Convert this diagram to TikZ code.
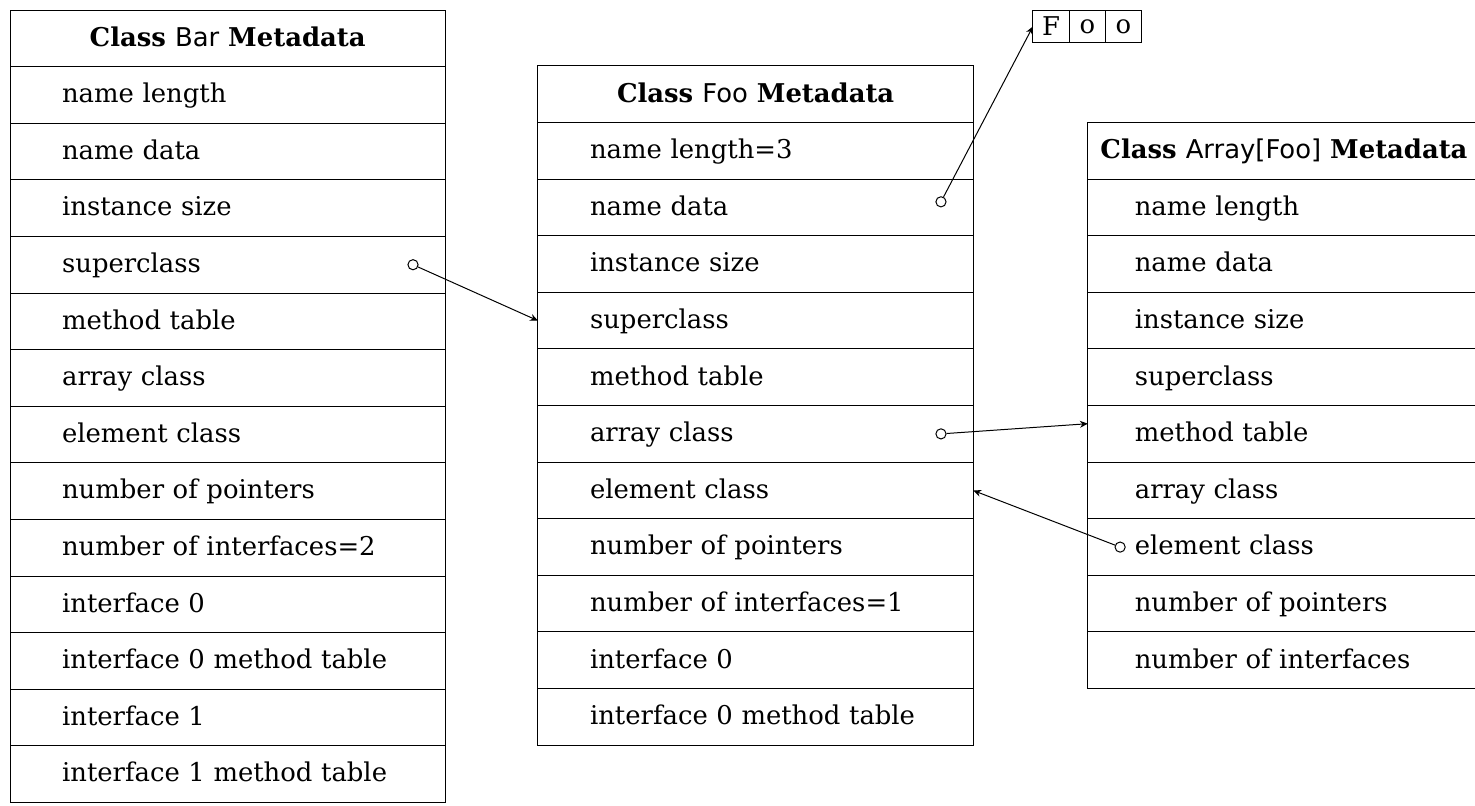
\documentclass[tikz,border=0pt]{standalone}
\usepackage{fontspec}
\setmainfont{DejaVu Serif}
\setsansfont{DejaVu Sans}
\usetikzlibrary{positioning, arrows.meta}

\begin{document}
\begin{tikzpicture}[
  font=\fontsize{13}{16}\selectfont,
  head/.style={draw, line width=0.5pt, minimum width=7.69cm, minimum height=1cm,
               outer sep=0pt, text height=1em, text depth=0.22em,
               font=\fontsize{13}{16}\selectfont\bfseries},
  row/.style={draw, line width=0.5pt, minimum width=7.69cm, minimum height=1cm,
              outer sep=0pt, inner xsep=0.92cm, text width=5.85cm, align=left,
              text height=1em, text depth=0.22em},
  narrow/.style={minimum width=6.93cm, inner xsep=0.83cm, text width=5.27cm},
  chr/.style={draw, line width=0.5pt, minimum width=0.64cm, minimum height=0.58cm,
              outer sep=0pt, inner sep=0pt},
  ptr/.style={circle, draw, fill=white, line width=0.5pt, minimum size=0.18cm, inner sep=0pt},
  arr/.style={-{Stealth[length=4pt, width=3.5pt]}, line width=0.5pt},
]
\useasboundingbox (0,0) rectangle (26.06,-14.24);

% ---------- Class Bar ----------
\node[head, anchor=north west] (bar0) at (0.177,-0.177)
  {Class \textsf{\mdseries Bar} Metadata};
\foreach \lbl [count=\i, remember=\i as \j (initially 0)] in
  {name length, name data, instance size, superclass, method table, array class,
   element class, number of pointers, number of interfaces=2, interface 0,
   interface 0 method table, interface 1, interface 1 method table}
  \node[row, below=0pt of bar\j] (bar\i) {\lbl};

% ---------- Class Foo ----------
\node[head, anchor=north west] (foo0) at (9.505,-1.166)
  {Class \textsf{\mdseries Foo} Metadata};
\foreach \lbl [count=\i, remember=\i as \j (initially 0)] in
  {name length=3, name data, instance size, superclass, method table, array class,
   element class, number of pointers, number of interfaces=1, interface 0,
   interface 0 method table}
  \node[row, below=0pt of foo\j] (foo\i) {\lbl};

% ---------- Class Array[Foo] ----------
\node[head, minimum width=6.93cm, anchor=north west] (arr0) at (19.22,-2.166)
  {Class \textsf{\mdseries Array[Foo]} Metadata};
\foreach \lbl [count=\i, remember=\i as \j (initially 0)] in
  {name length, name data, instance size, superclass, method table, array class,
   element class, number of pointers, number of interfaces}
  \node[row, narrow, below=0pt of arr\j] (arr\i) {\lbl};

% ---------- name string ----------
\node[chr, anchor=north west] (c1) at (18.25,-0.177) {F};
\node[chr, right=0pt of c1] (c2) {o};
\node[chr, right=0pt of c2] (c3) {o};

% ---------- pointers ----------
\node[ptr, xshift=-0.57cm] (p1) at (bar4.east) {};
\node[ptr, xshift=-0.57cm, yshift=0.1cm] (p2) at (foo2.east) {};
\node[ptr, xshift=-0.57cm] (p3) at (foo6.east) {};
\node[ptr, xshift=0.57cm] (p4) at (arr7.west) {};

\draw[arr] (p1) -- (foo4.west);
\draw[arr] (p2) -- (c1.west);
\draw[arr] (p3) -- ([yshift=0.18cm]arr5.west);
\draw[arr] (p4) -- (foo7.east);
\end{tikzpicture}
\end{document}
